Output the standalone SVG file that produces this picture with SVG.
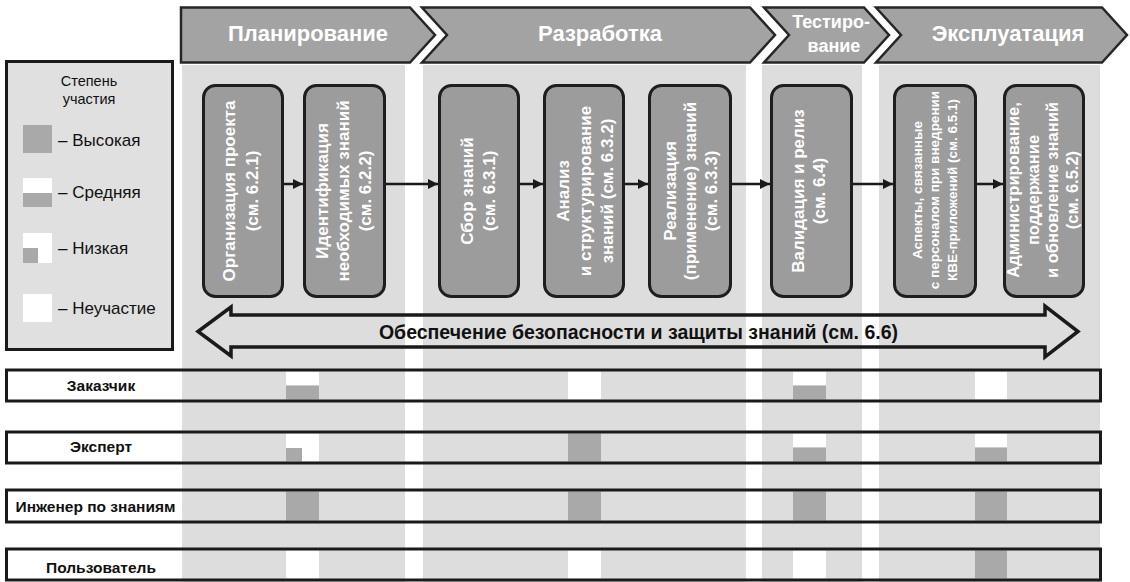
<svg xmlns="http://www.w3.org/2000/svg" width="1130" height="582" viewBox="0 0 1130 582">
<style>
.col{fill:#dddddd}
.chev{fill:#a3a3a3;stroke:#262626;stroke-width:2.5;stroke-linejoin:miter}
.phase{font-family:"Liberation Sans",Arial,sans-serif;font-weight:bold;fill:#ffffff;text-anchor:middle}
.node{fill:#9c9c9c;stroke:#1e1e1e;stroke-width:3}
.nt{font-family:"Liberation Sans",Arial,sans-serif;font-weight:bold;fill:#ffffff;text-anchor:middle;font-size:17px}
.conn{stroke:#1a1a1a;stroke-width:2.5;fill:none}
.lg{font-family:"Liberation Sans",Arial,sans-serif;fill:#111111;font-size:17px}
.hi{fill:#a9a9a9}
.wh{fill:#ffffff}
.row{fill:none;stroke:#1a1a1a;stroke-width:3}
.rl{font-family:"Liberation Sans",Arial,sans-serif;font-weight:bold;fill:#111111;font-size:15.5px;text-anchor:middle}
</style>
<defs>
<marker id="ah" markerUnits="userSpaceOnUse" markerWidth="10" markerHeight="10" refX="10" refY="5" orient="auto">
<path d="M0,0 L10,5 L0,10 z" fill="#1a1a1a"/>
</marker>
</defs>
<rect width="1130" height="582" fill="#ffffff"/>
<g id="columns">
<rect class="col" x="182" y="65" width="223" height="517"/>
<rect class="col" x="423" y="65" width="323" height="517"/>
<rect class="col" x="762" y="65" width="100" height="517"/>
<rect class="col" x="879" y="65" width="221" height="517"/>
</g>
<g id="phases">
<g id="phase-planning">
<path class="chev" d="M181,7.5 H410 L435,35 L410,62.5 H181 Z"/>
<text class="phase" x="308" y="41" font-size="22">Планирование</text>
</g>
<g id="phase-development">
<path class="chev" d="M422,7.5 H750 L775,35 L750,62.5 H422 L447,35 Z"/>
<text class="phase" x="600" y="41" font-size="22">Разработка</text>
</g>
<g id="phase-testing">
<path class="chev" d="M764,7.5 H864 L889,35 L864,62.5 H764 L789,35 Z"/>
<text class="phase" x="831" y="28" font-size="18">Тестиро-</text>
<text class="phase" x="834" y="52" font-size="18">вание</text>
</g>
<g id="phase-operation">
<path class="chev" d="M876,7.5 H1102 L1127,35 L1102,62.5 H876 L901,35 Z"/>
<text class="phase" x="1008" y="41" font-size="22">Эксплуатация</text>
</g>
</g>
<g id="legend">
<rect x="6.5" y="61.5" width="166" height="288" fill="#e0e0e0" stroke="#1a1a1a" stroke-width="3"/>
<text class="lg" x="89" y="86" font-size="14.5" style="font-size:14.5px" text-anchor="middle">Степень</text>
<text class="lg" x="89" y="103.5" font-size="14.5" style="font-size:14.5px" text-anchor="middle">участия</text>
<rect class="hi" x="23" y="125" width="29" height="28"/>
<text class="lg" x="58" y="146">– Высокая</text>
<rect class="wh" x="23" y="178" width="29" height="15"/>
<rect class="hi" x="23" y="193" width="29" height="14"/>
<text class="lg" x="58" y="198">– Средняя</text>
<rect class="wh" x="23" y="233" width="29" height="30"/>
<rect class="hi" x="23" y="248" width="15" height="15"/>
<text class="lg" x="58" y="254">– Низкая</text>
<rect class="wh" x="23" y="294" width="29" height="28"/>
<text class="lg" x="58" y="314">– Неучастие</text>
</g>
<g id="connectors">
<line class="conn" x1="284" y1="184" x2="303" y2="184" marker-end="url(#ah)"/>
<line class="conn" x1="386" y1="184" x2="438" y2="184" marker-end="url(#ah)"/>
<line class="conn" x1="520" y1="184" x2="543" y2="184" marker-end="url(#ah)"/>
<line class="conn" x1="625" y1="184" x2="648" y2="184" marker-end="url(#ah)"/>
<line class="conn" x1="732" y1="184" x2="770" y2="184" marker-end="url(#ah)"/>
<line class="conn" x1="853" y1="184" x2="893" y2="184" marker-end="url(#ah)"/>
<line class="conn" x1="977" y1="184" x2="1003" y2="184" marker-end="url(#ah)"/>
</g>
<g id="node1">
<rect class="node" x="203.5" y="85.5" width="79" height="211" rx="12"/>
<text class="nt" transform="translate(243,191) rotate(-90)"><tspan x="0" y="-8">Организация проекта</tspan><tspan x="0" y="15">(см. 6.2.1)</tspan></text>
</g>
<g id="node2">
<rect class="node" x="304.5" y="85.5" width="80" height="211" rx="12"/>
<text class="nt" transform="translate(344.5,191) rotate(-90)"><tspan x="0" y="-17">Идентификация</tspan><tspan x="0" y="4.5">необходимых знаний</tspan><tspan x="0" y="26">(см. 6.2.2)</tspan></text>
</g>
<g id="node3">
<rect class="node" x="439.5" y="85.5" width="79" height="211" rx="12"/>
<text class="nt" transform="translate(479,191) rotate(-90)"><tspan x="0" y="-6">Сбор знаний</tspan><tspan x="0" y="16">(см. 6.3.1)</tspan></text>
</g>
<g id="node4">
<rect class="node" x="544.5" y="85.5" width="79" height="211" rx="12"/>
<text class="nt" transform="translate(584,191) rotate(-90)"><tspan x="0" y="-15">Анализ</tspan><tspan x="0" y="7">и структурирование</tspan><tspan x="0" y="29">знаний (см. 6.3.2)</tspan></text>
</g>
<g id="node5">
<rect class="node" x="649.5" y="85.5" width="81" height="211" rx="12"/>
<text class="nt" transform="translate(690,191) rotate(-90)"><tspan x="0" y="-14">Реализация</tspan><tspan x="0" y="6">(применение) знаний</tspan><tspan x="0" y="27">(см. 6.3.3)</tspan></text>
</g>
<g id="node6">
<rect class="node" x="771.5" y="85.5" width="80" height="211" rx="12"/>
<text class="nt" transform="translate(811.5,191) rotate(-90)"><tspan x="0" y="-7.5">Валидация и релиз</tspan><tspan x="0" y="13.5">(см. 6.4)</tspan></text>
</g>
<g id="node7">
<rect class="node" x="894.5" y="85.5" width="81" height="211" rx="12"/>
<text class="nt" style="font-size:13.5px" transform="translate(935,190) rotate(-90)"><tspan x="0" y="-13">Аспекты, связанные</tspan><tspan x="0" y="4">с персоналом при внедрении</tspan><tspan x="0" y="22">КВЕ-приложений (см. 6.5.1)</tspan></text>
</g>
<g id="node8">
<rect class="node" x="1004.5" y="85.5" width="79" height="211" rx="12"/>
<text class="nt" style="font-size:16.5px" transform="translate(1044,190) rotate(-90)"><tspan x="0" y="-25">Администрирование,</tspan><tspan x="0" y="-5.5">поддержание</tspan><tspan x="0" y="14">и обновление знаний</tspan><tspan x="0" y="33.5">(см. 6.5.2)</tspan></text>
</g>
<g id="security">
<polygon points="198,331.5 231,307 231,315 1045,315 1045,306 1078,331.5 1045,357 1045,347 231,347 231,356" fill="none" stroke="#1a1a1a" stroke-width="3.5" stroke-linejoin="miter"/>
<text x="638.5" y="338.5" font-family="Liberation Sans, Arial, sans-serif" font-weight="bold" font-size="19.5" fill="#111111" text-anchor="middle">Обеспечение безопасности и защиты знаний (см. 6.6)</text>
</g>
<g id="cells">
<rect class="wh" x="286" y="371.5" width="33" height="14"/><rect class="hi" x="286" y="385.5" width="33" height="14"/>
<rect class="wh" x="568" y="371.5" width="33" height="28"/>
<rect class="wh" x="793" y="371.5" width="33" height="14"/><rect class="hi" x="793" y="385.5" width="33" height="14"/>
<rect class="wh" x="975" y="371.5" width="32" height="28"/>
<rect class="wh" x="286" y="433.5" width="33" height="28"/><rect class="hi" x="286" y="448" width="16" height="13.5"/>
<rect class="hi" x="568" y="433.5" width="33" height="28"/>
<rect class="wh" x="793" y="433.5" width="33" height="14"/><rect class="hi" x="793" y="447.5" width="33" height="14"/>
<rect class="wh" x="975" y="433.5" width="32" height="14"/><rect class="hi" x="975" y="447.5" width="32" height="14"/>
<rect class="hi" x="286" y="491.5" width="33" height="29"/>
<rect class="hi" x="568" y="491.5" width="33" height="29"/>
<rect class="hi" x="793" y="491.5" width="33" height="29"/>
<rect class="hi" x="975" y="491.5" width="32" height="29"/>
<rect class="wh" x="286" y="550.5" width="33" height="28"/>
<rect class="wh" x="568" y="550.5" width="33" height="28"/>
<rect class="wh" x="793" y="550.5" width="33" height="28"/>
<rect class="hi" x="975" y="550.5" width="32" height="28"/>
</g>
<g id="row-customer">
<rect class="row" x="6.5" y="370" width="1094" height="31"/>
<text class="rl" x="101" y="391">Заказчик</text>
</g>
<g id="row-expert">
<rect class="row" x="6.5" y="432" width="1094" height="31"/>
<text class="rl" x="101" y="451.5">Эксперт</text>
</g>
<g id="row-engineer">
<rect class="row" x="6.5" y="490" width="1094" height="32"/>
<text class="rl" x="95.5" y="512">Инженер по знаниям</text>
</g>
<g id="row-user">
<rect class="row" x="6.5" y="549" width="1094" height="31"/>
<text class="rl" x="101" y="572.5">Пользователь</text>
</g>
</svg>
